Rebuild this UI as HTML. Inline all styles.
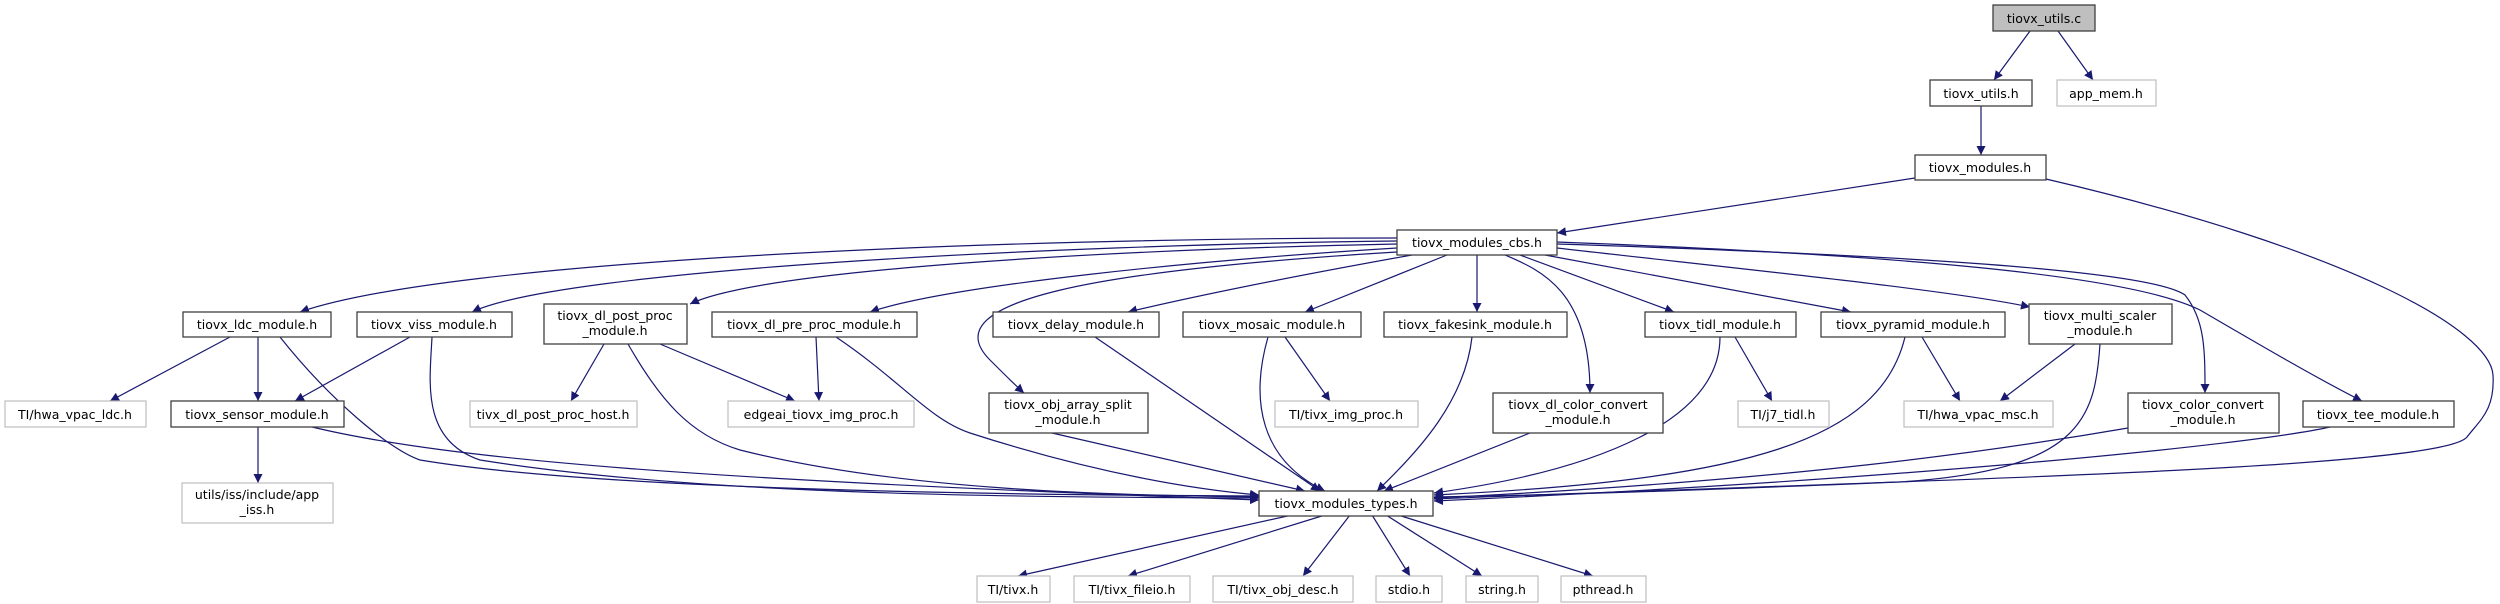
<!DOCTYPE html>
<html><head><meta charset="utf-8"><style>
html,body{margin:0;padding:0;background:#fff;}
svg{display:block;}
text{font-family:"DejaVu Sans","Liberation Sans",sans-serif;font-size:12.5px;fill:#000;}
.n{fill:#fff;stroke:#404040;stroke-width:1.3;}
.g{fill:#fff;stroke:#bfbfbf;stroke-width:1.2;}
.e{fill:none;stroke:#191970;stroke-width:1.2;}
</style></head><body>
<svg width="2500" height="604" viewBox="0 0 2500 604" xmlns="http://www.w3.org/2000/svg">
<defs><marker id="a" viewBox="0 0 10 10" refX="10" refY="5" markerWidth="9" markerHeight="9" markerUnits="userSpaceOnUse" orient="auto"><path d="M0,0 L10,5 L0,10 z" fill="#191970"/></marker></defs>
<g class="e" marker-end="url(#a)">
<path d="M2030,31 L1994,80"/>
<path d="M2058,31 L2093,80"/>
<path d="M1981,106 L1981,155"/>
<path d="M1915,178 L1557,233"/>
<path d="M2046,179 C2350,250 2490,330 2493,375 C2495,410 2480,420 2467,437 C2440,470 1900,480 1434,499"/>
<path d="M1397,238 C1000,238 450,260 300,312"/>
<path d="M1397,241 C1050,245 560,270 472,312"/>
<path d="M1397,244 C1100,250 760,270 690,304"/>
<path d="M1397,248 C1200,260 950,285 870,312"/>
<path d="M1412,255 C1300,275 1200,295 1128,312"/>
<path d="M1447,255 L1305,312"/>
<path d="M1477,255 L1477,312"/>
<path d="M1397,252 C1100,270 930,300 990,360 C1005,375 1015,385 1024,393"/>
<path d="M1505,255 C1540,270 1590,290 1590,393"/>
<path d="M1520,255 L1674,312"/>
<path d="M1545,255 L1851,312"/>
<path d="M1557,248 C1750,270 1950,290 2030,307"/>
<path d="M1557,244 C1900,255 2150,270 2185,295 C2205,320 2205,350 2205,393"/>
<path d="M1557,242 C1900,255 2130,275 2200,310 C2260,345 2320,380 2362,401"/>
<path d="M230,337 L110,401"/>
<path d="M258,337 L258,401"/>
<path d="M280,337 C330,400 390,450 420,460 C600,490 1000,495 1259,496"/>
<path d="M410,337 L295,401"/>
<path d="M432,337 C430,380 420,440 480,460 C700,495 1000,497 1259,498"/>
<path d="M312,427 C450,460 700,480 1259,500"/>
<path d="M258,427 L258,483"/>
<path d="M604,344 L571,401"/>
<path d="M660,344 L795,401"/>
<path d="M628,344 C660,400 690,435 740,450 C900,490 1100,495 1259,497"/>
<path d="M816,337 L819,401"/>
<path d="M836,337 C900,380 930,420 970,433 C1100,475 1200,490 1259,495"/>
<path d="M1095,337 L1320,491"/>
<path d="M1268,337 C1250,400 1260,460 1325,491"/>
<path d="M1285,337 L1330,401"/>
<path d="M1472,337 C1465,400 1420,450 1377,491"/>
<path d="M1052,433 L1305,491"/>
<path d="M1530,433 L1384,491"/>
<path d="M1720,337 C1720,420 1600,470 1434,493"/>
<path d="M1735,337 L1772,401"/>
<path d="M1905,337 C1880,440 1750,480 1434,495"/>
<path d="M1922,337 L1960,401"/>
<path d="M2075,344 L2000,401"/>
<path d="M2100,344 C2095,420 2080,470 1900,482 C1700,490 1600,494 1434,497"/>
<path d="M2128,428 C2000,450 1800,480 1434,498"/>
<path d="M2330,427 C2250,445 1900,480 1434,501"/>
<path d="M1292,515 L1018,576"/>
<path d="M1325,515 L1128,576"/>
<path d="M1350,515 L1303,576"/>
<path d="M1372,515 L1410,576"/>
<path d="M1386,515 L1482,576"/>
<path d="M1398,515 L1593,576"/>
</g>
<rect x="1993" y="5" width="102" height="26" fill="#bfbfbf" stroke="#404040" stroke-width="1.3"/><text x="2044" y="23" text-anchor="middle">tiovx_utils.c</text>
<rect class="n" x="1930" y="80" width="102" height="26"/><text x="1981" y="98" text-anchor="middle">tiovx_utils.h</text>
<rect class="g" x="2057" y="80" width="99" height="26"/><text x="2106" y="98" text-anchor="middle">app_mem.h</text>
<rect class="n" x="1915" y="155" width="131" height="25"/><text x="1980" y="172" text-anchor="middle">tiovx_modules.h</text>
<rect class="n" x="1397" y="230" width="160" height="25"/><text x="1477" y="247" text-anchor="middle">tiovx_modules_cbs.h</text>

<rect class="n" x="183" y="312" width="148" height="25"/><text x="257" y="329" text-anchor="middle">tiovx_ldc_module.h</text>
<rect class="n" x="357" y="312" width="155" height="25"/><text x="434" y="329" text-anchor="middle">tiovx_viss_module.h</text>
<rect class="n" x="544" y="304" width="143" height="40"/><text x="615" y="320" text-anchor="middle">tiovx_dl_post_proc</text><text x="615" y="335" text-anchor="middle">_module.h</text>
<rect class="n" x="712" y="312" width="205" height="25"/><text x="814" y="329" text-anchor="middle">tiovx_dl_pre_proc_module.h</text>
<rect class="n" x="993" y="312" width="166" height="25"/><text x="1076" y="329" text-anchor="middle">tiovx_delay_module.h</text>
<rect class="n" x="1183" y="312" width="178" height="25"/><text x="1272" y="329" text-anchor="middle">tiovx_mosaic_module.h</text>
<rect class="n" x="1384" y="312" width="183" height="25"/><text x="1475" y="329" text-anchor="middle">tiovx_fakesink_module.h</text>
<rect class="n" x="1645" y="312" width="151" height="25"/><text x="1720" y="329" text-anchor="middle">tiovx_tidl_module.h</text>
<rect class="n" x="1821" y="312" width="184" height="25"/><text x="1913" y="329" text-anchor="middle">tiovx_pyramid_module.h</text>
<rect class="n" x="2029" y="304" width="143" height="40"/><text x="2100" y="320" text-anchor="middle">tiovx_multi_scaler</text><text x="2100" y="335" text-anchor="middle">_module.h</text>

<rect class="g" x="5" y="401" width="141" height="26"/><text x="75" y="419" text-anchor="middle">TI/hwa_vpac_ldc.h</text>
<rect class="n" x="171" y="401" width="173" height="26"/><text x="257" y="419" text-anchor="middle">tiovx_sensor_module.h</text>
<rect class="g" x="470" y="401" width="167" height="26"/><text x="553" y="419" text-anchor="middle">tivx_dl_post_proc_host.h</text>
<rect class="g" x="728" y="401" width="186" height="26"/><text x="821" y="419" text-anchor="middle">edgeai_tiovx_img_proc.h</text>
<rect class="n" x="989" y="393" width="159" height="40"/><text x="1068" y="409" text-anchor="middle">tiovx_obj_array_split</text><text x="1068" y="424" text-anchor="middle">_module.h</text>
<rect class="g" x="1275" y="401" width="143" height="26"/><text x="1346" y="419" text-anchor="middle">TI/tivx_img_proc.h</text>
<rect class="n" x="1493" y="393" width="170" height="40"/><text x="1578" y="409" text-anchor="middle">tiovx_dl_color_convert</text><text x="1578" y="424" text-anchor="middle">_module.h</text>
<rect class="g" x="1738" y="401" width="91" height="26"/><text x="1783" y="419" text-anchor="middle">TI/j7_tidl.h</text>
<rect class="g" x="1904" y="401" width="149" height="26"/><text x="1978" y="419" text-anchor="middle">TI/hwa_vpac_msc.h</text>
<rect class="n" x="2128" y="393" width="151" height="40"/><text x="2203" y="409" text-anchor="middle">tiovx_color_convert</text><text x="2203" y="424" text-anchor="middle">_module.h</text>
<rect class="n" x="2303" y="401" width="151" height="26"/><text x="2378" y="419" text-anchor="middle">tiovx_tee_module.h</text>

<rect class="g" x="182" y="483" width="151" height="40"/><text x="257" y="499" text-anchor="middle">utils/iss/include/app</text><text x="257" y="514" text-anchor="middle">_iss.h</text>
<rect class="n" x="1259" y="491" width="174" height="25"/><text x="1346" y="508" text-anchor="middle">tiovx_modules_types.h</text>

<rect class="g" x="977" y="576" width="73" height="26"/><text x="1013" y="594" text-anchor="middle">TI/tivx.h</text>
<rect class="g" x="1074" y="576" width="116" height="26"/><text x="1132" y="594" text-anchor="middle">TI/tivx_fileio.h</text>
<rect class="g" x="1213" y="576" width="140" height="26"/><text x="1283" y="594" text-anchor="middle">TI/tivx_obj_desc.h</text>
<rect class="g" x="1376" y="576" width="66" height="26"/><text x="1409" y="594" text-anchor="middle">stdio.h</text>
<rect class="g" x="1466" y="576" width="72" height="26"/><text x="1502" y="594" text-anchor="middle">string.h</text>
<rect class="g" x="1561" y="576" width="85" height="26"/><text x="1603" y="594" text-anchor="middle">pthread.h</text>
</svg>
</body></html>
